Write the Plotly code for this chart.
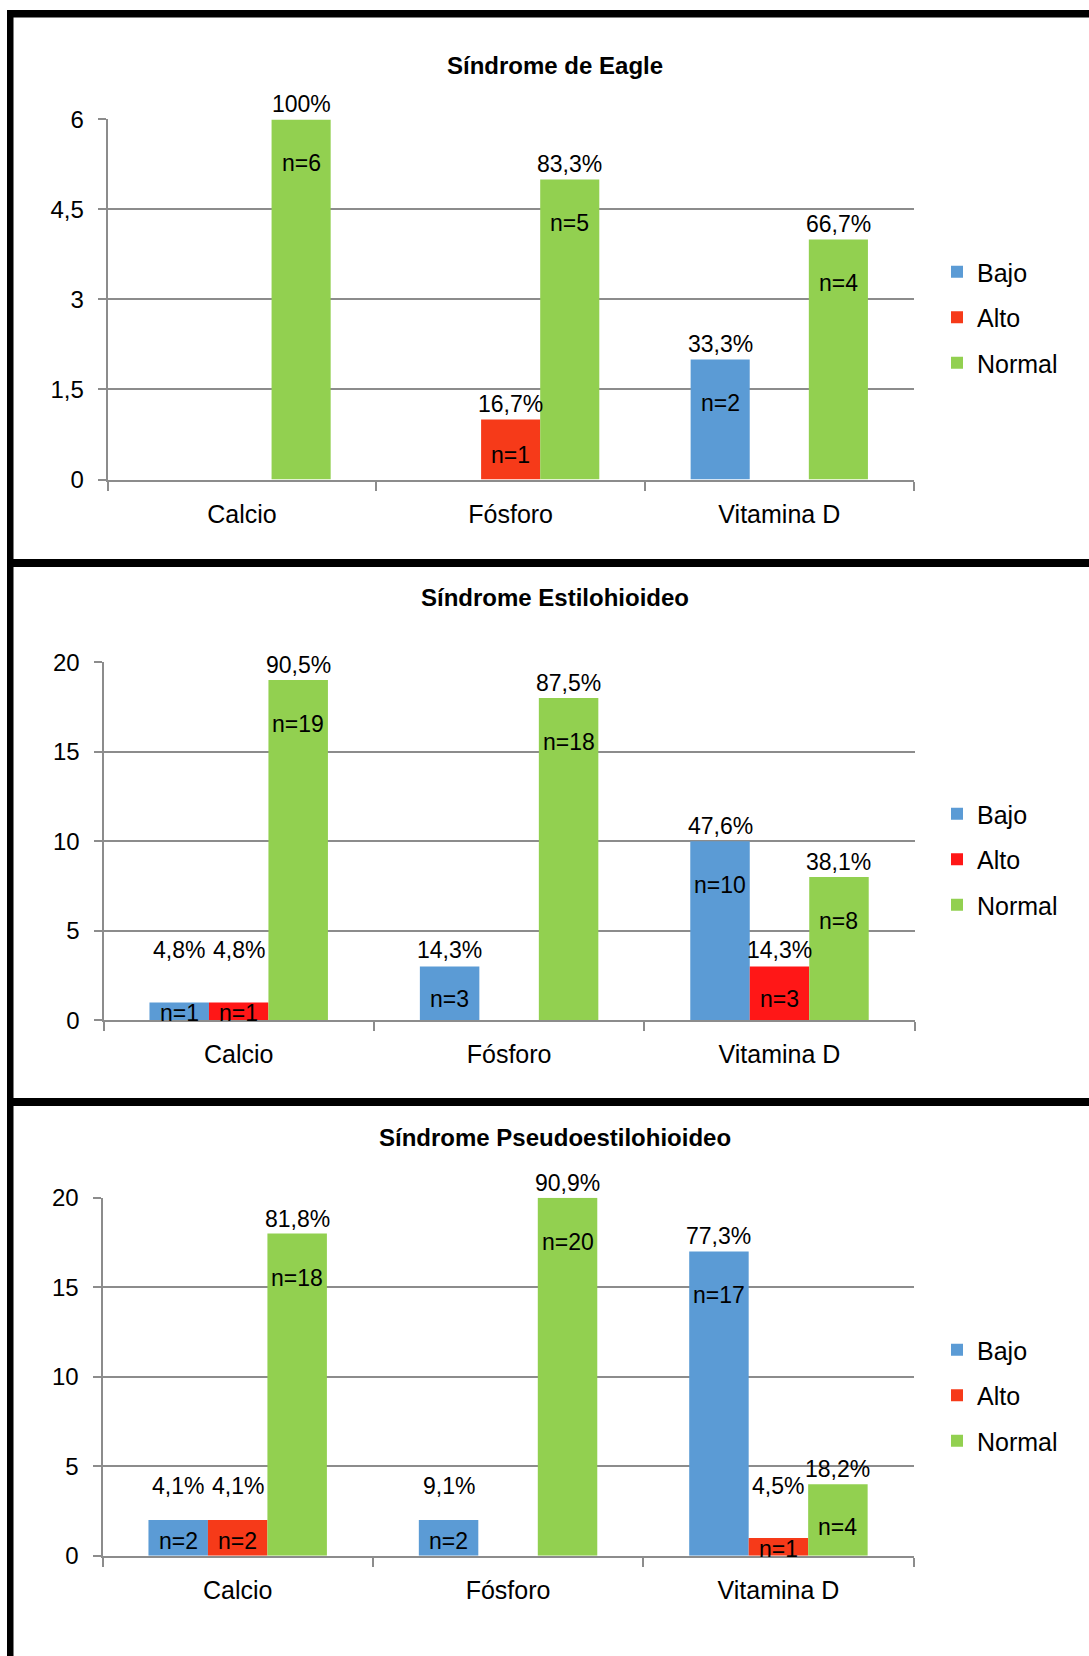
import plotly.graph_objects as go

W, H = 1089, 1656

# ---------------- data ----------------
categories = ["Calcio", "Fósforo", "Vitamina D"]
series_names = ["Bajo", "Alto", "Normal"]

eagle_title = "Síndrome de Eagle"
eagle_bajo = [None, None, 2]
eagle_alto = [None, 1, None]
eagle_normal = [6, 5, 4]
eagle_bajo_pct = [None, None, "33,3%"]
eagle_alto_pct = [None, "16,7%", None]
eagle_normal_pct = ["100%", "83,3%", "66,7%"]
eagle_ticks = [0, 1.5, 3, 4.5, 6]
eagle_ticktext = ["0", "1,5", "3", "4,5", "6"]

estilo_title = "Síndrome Estilohioideo"
estilo_bajo = [1, 3, 10]
estilo_alto = [1, None, 3]
estilo_normal = [19, 18, 8]
estilo_bajo_pct = ["4,8%", "14,3%", "47,6%"]
estilo_alto_pct = ["4,8%", None, "14,3%"]
estilo_normal_pct = ["90,5%", "87,5%", "38,1%"]
estilo_ticks = [0, 5, 10, 15, 20]
estilo_ticktext = ["0", "5", "10", "15", "20"]

pseudo_title = "Síndrome Pseudoestilohioideo"
pseudo_bajo = [2, 2, 17]
pseudo_alto = [2, None, 1]
pseudo_normal = [18, 20, 4]
pseudo_bajo_pct = ["4,1%", "9,1%", "77,3%"]
pseudo_alto_pct = ["4,1%", None, "4,5%"]
pseudo_normal_pct = ["81,8%", "90,9%", "18,2%"]
pseudo_ticks = [0, 5, 10, 15, 20]
pseudo_ticktext = ["0", "5", "10", "15", "20"]

# ---------------- style ----------------
FONT = "Liberation Sans, Arial, sans-serif"
BLUE = "#5B9BD5"
GREEN = "#92D050"
ORANGE_RED = "#F63A19"
RED = "#FF1717"
GRID = "#8C8C8C"
BARGAP = 0.34

panels = [
    dict(title=eagle_title, vals=[eagle_bajo, eagle_alto, eagle_normal],
         pcts=[eagle_bajo_pct, eagle_alto_pct, eagle_normal_pct],
         ticks=eagle_ticks, ticktext=eagle_ticktext,
         colors=[BLUE, ORANGE_RED, GREEN],
         box=(107.7, 913.6, 119.4, 479.5), title_y=65.5, legend_y=249),
    dict(title=estilo_title, vals=[estilo_bajo, estilo_alto, estilo_normal],
         pcts=[estilo_bajo_pct, estilo_alto_pct, estilo_normal_pct],
         ticks=estilo_ticks, ticktext=estilo_ticktext,
         colors=[BLUE, RED, GREEN],
         box=(103.5, 914.7, 662.2, 1020.3), title_y=597.8, legend_y=791),
    dict(title=pseudo_title, vals=[pseudo_bajo, pseudo_alto, pseudo_normal],
         pcts=[pseudo_bajo_pct, pseudo_alto_pct, pseudo_normal_pct],
         ticks=pseudo_ticks, ticktext=pseudo_ticktext,
         colors=[BLUE, ORANGE_RED, GREEN],
         box=(102.5, 913.6, 1197.7, 1555.8), title_y=1137.5, legend_y=1327),
]

fig = go.Figure()
annotations = []
layout = {}

bar_unit = (1 - BARGAP) / 3

for p_i, p in enumerate(panels):
    sfx = "" if p_i == 0 else str(p_i + 1)
    xa, ya = "x" + sfx, "y" + sfx
    lg = "legend" + sfx
    x0, x1, ytop, ybot = p["box"]
    ymax = p["ticks"][-1]
    px_per_unit = (ybot - ytop) / ymax

    for s_i, name in enumerate(series_names):
        vals = p["vals"][s_i]
        fig.add_trace(go.Bar(
            x=categories, y=vals, name=name,
            marker=dict(color=p["colors"][s_i], line=dict(width=0)),
            xaxis=xa, yaxis=ya, legend=lg, legendgroup=f"{p_i}-{name}",
            hoverinfo="x+y+name",
        ))
        for c_i, v in enumerate(vals):
            if v is None:
                continue
            xpos = c_i + (s_i - 1) * bar_unit
            h = v * px_per_unit
            # n label inside bar
            n_off = min(44, 0.6 * h)
            annotations.append(dict(
                x=xpos, y=0, xref=xa, yref=ya, text=f"n={v}",
                showarrow=False, yanchor="middle", xanchor="center",
                yshift=h - n_off,
                font=dict(family=FONT, size=23, color="#000000")))
            pct = p["pcts"][s_i][c_i]
            if pct:
                annotations.append(dict(
                    x=xpos, y=0, xref=xa, yref=ya, text=pct,
                    showarrow=False, yanchor="middle", xanchor="center",
                    yshift=max(h + 15, 70),
                    font=dict(family=FONT, size=23, color="#000000")))

    layout["xaxis" + sfx] = dict(
        domain=[x0 / W, x1 / W], anchor=ya, type="category",
        categoryorder="array", categoryarray=categories,
        showline=True, linecolor=GRID, linewidth=2,
        ticks="outside", tickson="boundaries", ticklen=9, tickwidth=2, tickcolor=GRID,
        showgrid=False, tickfont=dict(family=FONT, size=25, color="#000000"),
        ticklabelstandoff=11, fixedrange=True, automargin=False)
    layout["yaxis" + sfx] = dict(
        domain=[1 - ybot / H, 1 - ytop / H], anchor=xa,
        range=[0, ymax], tickvals=p["ticks"], ticktext=p["ticktext"],
        showgrid=True, gridcolor=GRID, gridwidth=2,
        showline=True, linecolor=GRID, linewidth=2, zeroline=False,
        ticks="outside", ticklen=8, tickwidth=2, tickcolor=GRID,
        tickfont=dict(family=FONT, size=24, color="#000000"),
        ticklabelstandoff=9, fixedrange=True, automargin=False)
    layout[lg] = dict(
        x=937 / W, xanchor="left", y=1 - p["legend_y"] / H, yanchor="top",
        font=dict(family=FONT, size=25, color="#000000"),
        bgcolor="rgba(0,0,0,0)", tracegroupgap=10, itemwidth=30,
        orientation="v")
    annotations.append(dict(
        x=555 / W, y=1 - p["title_y"] / H, xref="paper", yref="paper",
        text=f"<b>{p['title']}</b>", showarrow=False,
        xanchor="center", yanchor="middle",
        font=dict(family=FONT, size=24, color="#000000")))

# black frame lines
def rect(xa0, xa1, ya0, ya1):
    return dict(type="rect", xref="paper", yref="paper",
                x0=xa0 / W, x1=xa1 / W, y0=1 - ya1 / H, y1=1 - ya0 / H,
                fillcolor="#000000", line=dict(width=0), layer="above")

shapes = [
    rect(7, 13.5, 10, H),
    rect(7, W, 10, 17.5),
    rect(7, W, 559, 567),
    rect(7, W, 1098, 1106),
]

fig.update_layout(
    width=W, height=H, autosize=False,
    margin=dict(l=0, r=0, t=0, b=0, pad=0, autoexpand=False),
    paper_bgcolor="white", plot_bgcolor="white",
    barmode="group", bargap=BARGAP, bargroupgap=0,
    showlegend=True,
    font=dict(family=FONT, color="#000000"),
    annotations=annotations, shapes=shapes,
    **layout,
)

fig.write_html("out.html")
